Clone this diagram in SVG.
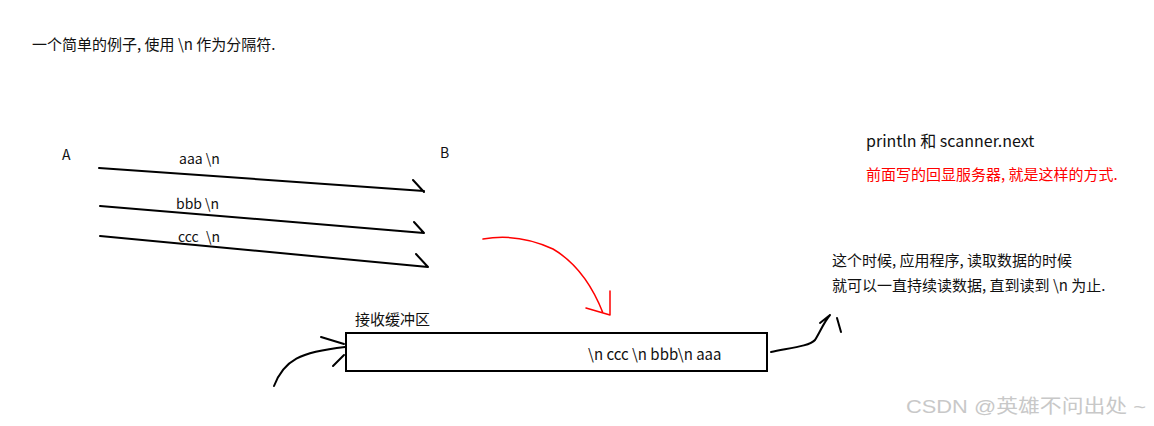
<svg xmlns="http://www.w3.org/2000/svg" width="1154" height="426" viewBox="0 0 1154 426">
<style>
text{font-family:"Noto Sans CJK SC","Microsoft YaHei","Liberation Sans",sans-serif;fill:#111;}
.t15{font-size:15px;}
.t14{font-size:14px;}
.red{fill:#f00;}
.ink{fill:none;stroke:#000;stroke-width:2;stroke-linecap:round;stroke-linejoin:round;}
.rink{fill:none;stroke:#f00;stroke-width:1.5;stroke-linecap:round;stroke-linejoin:round;}
.wm{font-family:"Liberation Sans","Noto Sans CJK SC",sans-serif;font-size:19px;fill:#c8c8c8;}
</style>
<rect width="1154" height="426" fill="#fff"/>
<g id="title"><text class="t15" x="32" y="50">一个简单的例子, 使用 \n 作为分隔符.</text></g>
<g id="nodeA"><text class="t14" x="62" y="160">A</text></g>
<g id="nodeB"><text class="t14" x="440" y="158">B</text></g>
<g id="buffer">
<text class="t15" x="355" y="325">接收缓冲区</text>
<rect x="346" y="333" width="421" height="38" fill="#fff" stroke="#000" stroke-width="2"/>
<text class="t15" x="588" y="360">\n ccc \n bbb\n aaa</text>
</g>
<g id="notes">
<text style="font-size:16px" x="866" y="147">println 和 scanner.next</text>
<text class="t15 red" x="866" y="180">前面写的回显服务器, 就是这样的方式.</text>
<text class="t15" x="832" y="266">这个时候, 应用程序, 读取数据的时候</text>
<text class="t15" x="832" y="291">就可以一直持续读数据, 直到读到 \n 为止.</text>
</g>
<g id="connectors">
<path class="ink" d="M99 168 L424 191 M413 180 L424 192"/>
<text class="t14" x="179" y="164">aaa \n</text>
<path class="ink" d="M100 206 L424 233 M414 222 L424 233"/>
<text class="t14" x="176" y="209">bbb \n</text>
<path class="ink" d="M100 236 L428 267 M416 254 L428 267"/>
<text class="t14" x="178" y="242">ccc<tspan x="206">\n</tspan></text>
<path class="rink" d="M483 239 C500 236 525 236 553 249 C575 262 592 285 603 313 M610 291 L610 315 L586 308"/>
<path class="ink" d="M274 386 C284 360 300 352 345 347 M321 337 L344 344 M333 366 L344 355"/>
<path class="ink" d="M771 352 C790 348 810 346 815 340 C820 332 824 322 830 315 M820 323 L830 315 M837 318 L841 332"/>
</g>
<g id="watermark"><text class="wm" x="906" y="413" textLength="240" lengthAdjust="spacingAndGlyphs">CSDN @英雄不问出处 ~</text></g>
</svg>
